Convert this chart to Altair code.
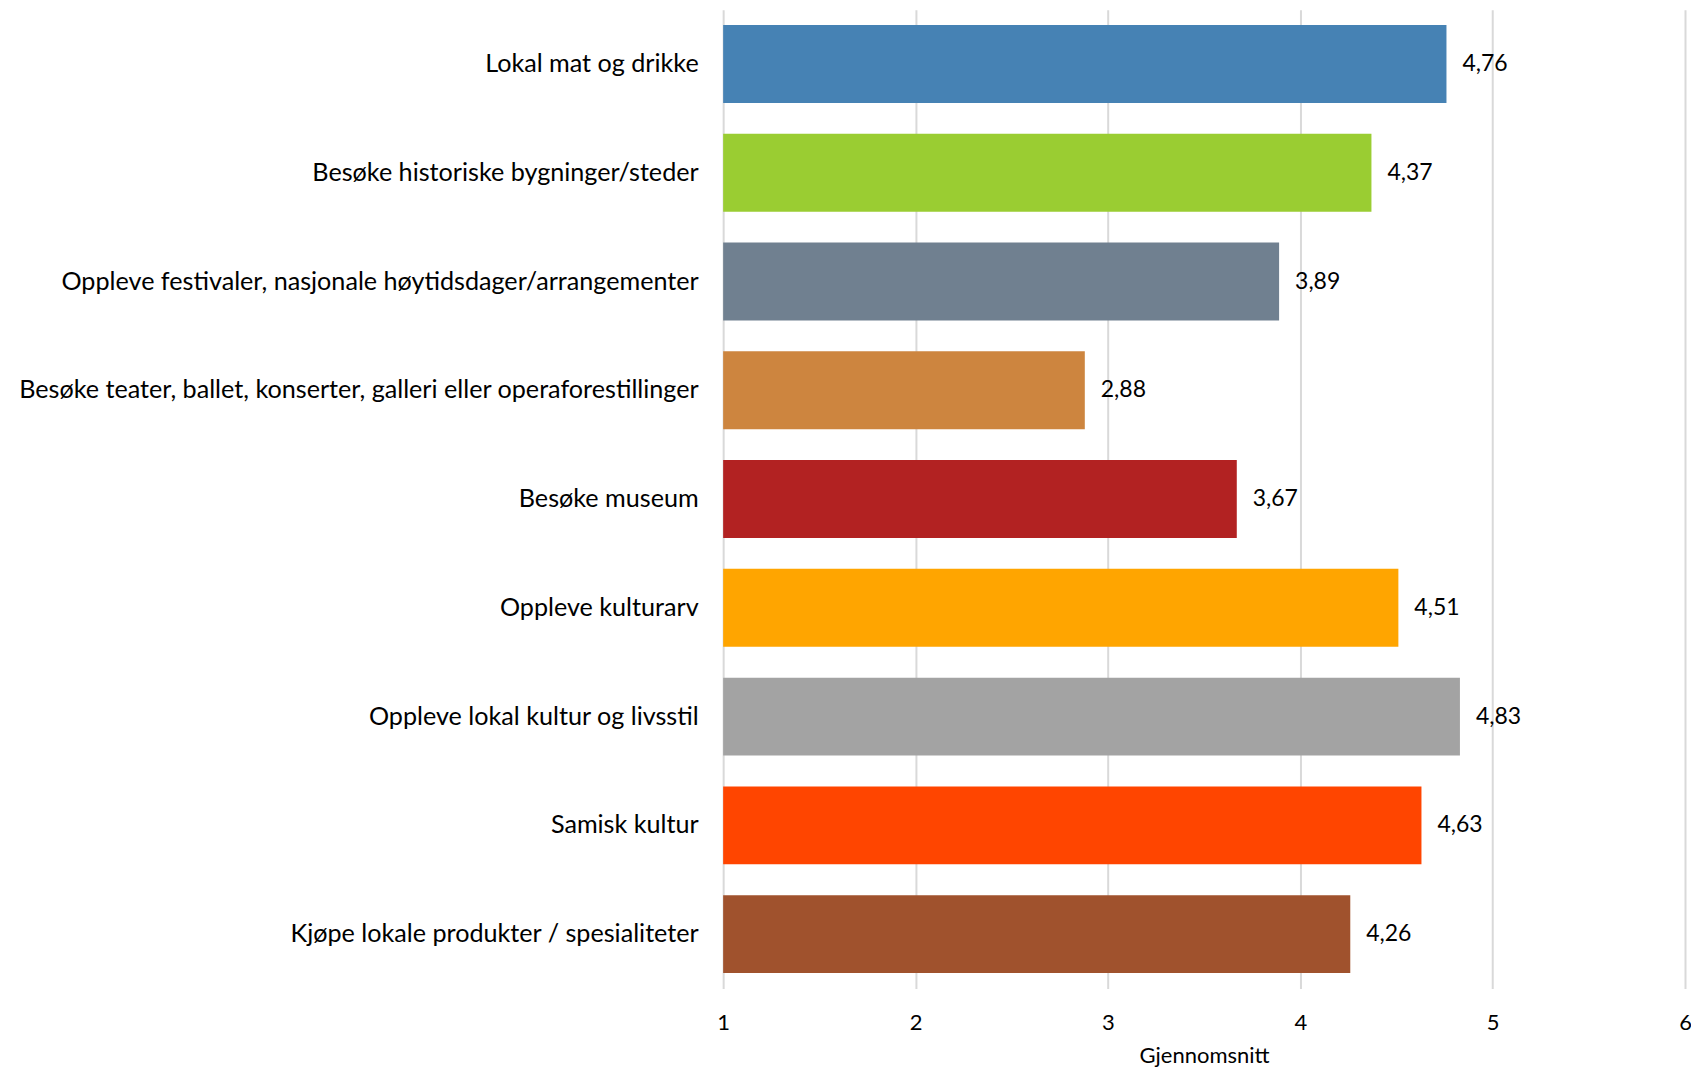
import altair as alt
import pandas as pd

categories = [
    "Lokal mat og drikke",
    "Besøke historiske bygninger/steder",
    "Oppleve festivaler, nasjonale høytidsdager/arrangementer",
    "Besøke teater, ballet, konserter, galleri eller operaforestillinger",
    "Besøke museum",
    "Oppleve kulturarv",
    "Oppleve lokal kultur og livsstil",
    "Samisk kultur",
    "Kjøpe lokale produkter / spesialiteter",
]
values = [4.76, 4.37, 3.89, 2.88, 3.67, 4.51, 4.83, 4.63, 4.26]
colors = ["#4682B4", "#9ACD32", "#708090", "#CD853F", "#B22222",
          "#FFA500", "#A3A3A3", "#FF4500", "#A0522D"]
x_ticks = [1, 2, 3, 4, 5, 6]

df = pd.DataFrame({
    "kategori": categories,
    "verdi": values,
    "farge": colors,
    "etikett": [f"{v:.2f}".replace(".", ",") for v in values],
})

FONT = "Lato"

y_enc = alt.Y(
    "kategori:N", sort=categories, title=None,
    scale=alt.Scale(paddingInner=0.284, paddingOuter=0.142),
    axis=alt.Axis(domain=False, ticks=False, tickSize=0, labelPadding=25,
                  labelFontSize=25.2, labelFont=FONT, labelColor="#000000",
                  labelLimit=0),
)
x_scale = alt.Scale(domain=[1, 6], zero=False, nice=False)

bars = alt.Chart(df).mark_bar().encode(
    x=alt.X("verdi:Q", scale=x_scale, title="Gjennomsnitt",
            axis=alt.Axis(values=x_ticks, format="d", domain=False, ticks=False,
                          tickSize=0, labelPadding=24, labelFontSize=22,
                          labelFlush=False, labelOverlap=False,
                          labelFont=FONT, labelColor="#000000",
                          titleFont=FONT, titleFontSize=22, titleFontWeight="normal",
                          titleColor="#000000", titlePadding=12,
                          gridColor="#D9D9D9", gridWidth=2)),
    x2=alt.datum(1),
    y=y_enc,
    color=alt.Color("farge:N", scale=None, legend=None),
)

labels = alt.Chart(df).mark_text(
    align="left", baseline="middle", dx=16, font=FONT, fontSize=23, color="#000000"
).encode(
    x=alt.X("verdi:Q", scale=x_scale),
    y=alt.Y("kategori:N", sort=categories),
    text="etikett:N",
)

chart = (bars + labels).properties(
    width=963, height=980,
    autosize=alt.AutoSizeParams(type="none"),
    padding={"left": 716, "top": 1, "right": 6, "bottom": 81},
).configure_view(stroke=None)

chart.save("out.html", embed_options={"renderer": "svg", "actions": False})
